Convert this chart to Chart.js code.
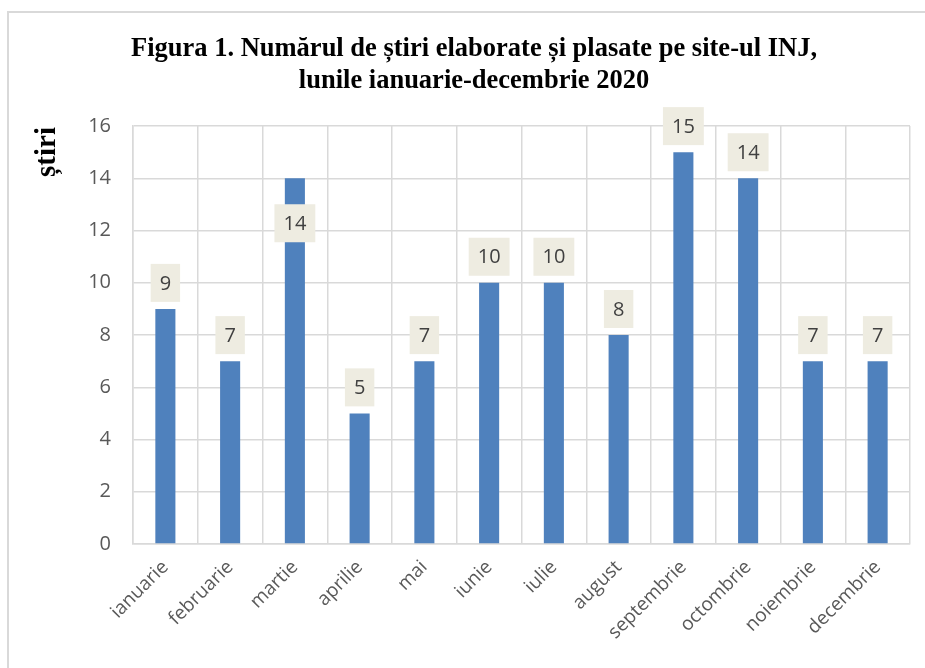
<!DOCTYPE html>
<html>
<head>
<meta charset="utf-8">
<script src="https://cdn.jsdelivr.net/npm/chart.js@4"></script>
<style>
  html, body { margin: 0; padding: 0; background: #fff; overflow: hidden; }
  #wrap { position: relative; width: 925px; height: 668px; overflow: hidden; }
  #frame { position: absolute; left: 7px; top: 11px; width: 1100px; height: 1100px; border: 2px solid #d9d9d9; }
  #myChart { position: absolute; left: 0; top: 0; }
</style>
</head>
<body>
<div id="wrap">
  <div id="frame"></div>
  <canvas id="myChart" width="925" height="668"></canvas>
</div>
<script>
// Chart data
const months = ['ianuarie', 'februarie', 'martie', 'aprilie', 'mai', 'iunie',
                'iulie', 'august', 'septembrie', 'octombrie', 'noiembrie', 'decembrie'];
const stiri = [9, 7, 14, 5, 7, 10, 10, 8, 15, 14, 7, 7];
const yTicks = [0, 2, 4, 6, 8, 10, 12, 14, 16];

const titleLines = ['Figura 1. Numărul de știri elaborate și plasate pe site-ul INJ,',
                    'lunile ianuarie-decembrie 2020'];
const yTitle = 'știri';

const labelFont = '20px "Open Sans"';

// Title, axis title and boxed value labels (Excel style)
const decorPlugin = {
    id: 'decor',
    afterDatasetsDraw(chart, args, opts) {
        const ctx = chart.ctx;
        const meta = chart.getDatasetMeta(0);
        ctx.save();
        ctx.font = labelFont;
        ctx.textAlign = 'center';
        ctx.textBaseline = 'middle';
        meta.data.forEach((bar, i) => {
            const txt = String(stiri[i]);
            const w = ctx.measureText(txt).width + 18;
            const h = 38;
            // label box sits above the bar, except where Excel pushed it inside
            const cy = opts.inside.includes(i) ? bar.y + 45 : bar.y - 26;
            ctx.fillStyle = '#eeece1';
            ctx.fillRect(bar.x - w / 2, cy - h / 2, w, h);
            ctx.fillStyle = '#404040';
            ctx.fillText(txt, bar.x, cy + 1);
        });
        ctx.restore();
    },
    afterDraw(chart) {
        const ctx = chart.ctx;
        ctx.save();
        ctx.fillStyle = '#000';
        ctx.font = 'bold 26.5px "Liberation Serif"';
        ctx.textAlign = 'center';
        ctx.textBaseline = 'alphabetic';
        ctx.fillText(titleLines[0], 474, 56);
        ctx.fillText(titleLines[1], 474, 88);
        ctx.translate(55, 152);
        ctx.rotate(-Math.PI / 2);
        ctx.font = 'bold 29px "Liberation Serif"';
        ctx.fillText(yTitle, 0, 0);
        ctx.restore();
    }
};

const ctx = document.getElementById('myChart');
const myChart = new Chart(ctx, {
    type: 'bar',
    data: {
        labels: months,
        datasets: [{
            data: stiri,
            backgroundColor: '#4f81bd',
            barPercentage: 0.31,
            categoryPercentage: 1
        }]
    },
    options: {
        responsive: false,
        animation: false,
        layout: { padding: { left: 0, top: 126, right: 15, bottom: 0 } },
        plugins: {
            legend: { display: false },
            tooltip: { enabled: false },
            decor: { inside: [2] }
        },
        scales: {
            y: {
                min: 0,
                max: 16,
                afterFit(scale) { scale.width = 133; },
                afterBuildTicks(scale) { scale.ticks = yTicks.map(v => ({ value: v })); },
                grid: { color: '#d9d9d9', lineWidth: 1.5, drawTicks: false },
                border: { color: '#d9d9d9', width: 1.5 },
                ticks: {
                    color: '#595959',
                    padding: 22,
                    font: { family: 'Open Sans', size: 20 }
                }
            },
            x: {
                afterFit(scale) { scale.height = 124; },
                grid: { color: '#d9d9d9', lineWidth: 1.5, drawTicks: false },
                border: { color: '#d9d9d9', width: 1.5 },
                ticks: {
                    color: '#595959',
                    padding: 12,
                    minRotation: 45,
                    maxRotation: 45,
                    font: { family: 'Open Sans', size: 19 }
                }
            }
        }
    },
    plugins: [decorPlugin]
});
</script>
</body>
</html>
